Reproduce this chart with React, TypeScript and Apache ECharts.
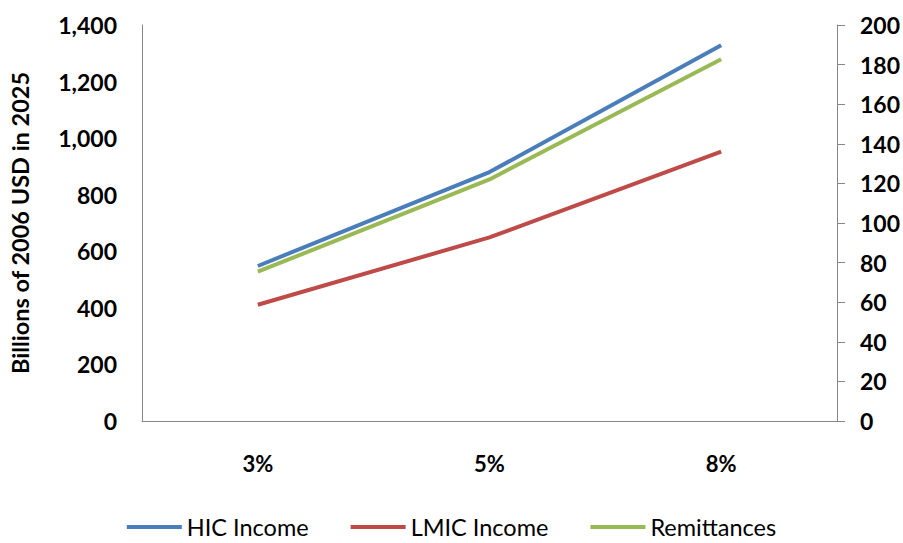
import React, { useEffect, useRef } from "react";
import * as echarts from "echarts";

const categories = ["3%", "5%", "8%"];
const hicIncome = [548, 880, 1328];
const lmicIncome = [411, 649, 952];
const remittances = [75.4, 122, 182.7];
const seriesNames = ["HIC Income", "LMIC Income", "Remittances"];
const leftAxisName = "Billions of 2006 USD in 2025";

const FONT = "Lato, 'Open Sans', sans-serif";

export default function App() {
  const ref = useRef<HTMLDivElement>(null);
  useEffect(() => {
    if (!ref.current) return;
    const chart = echarts.init(ref.current, undefined, { renderer: "svg" });
    const axisGray = "#868686";
    chart.setOption({
      animation: false,
      backgroundColor: "#ffffff",
      grid: { left: 142, right: 66, top: 25, bottom: 122, containLabel: false },
      legend: {
        data: seriesNames,
        left: "center",
        top: 515,
        padding: 0,
        icon: "rect",
        itemWidth: 55,
        itemHeight: 4,
        itemGap: 42,
        textStyle: { fontFamily: FONT, fontSize: 23.5, lineHeight: 24, color: "#000" },
      },
      xAxis: {
        type: "category",
        data: categories,
        boundaryGap: true,
        axisLine: { show: true, lineStyle: { color: axisGray, width: 1 } },
        axisTick: { show: false },
        axisLabel: { margin: 31, fontFamily: FONT, fontSize: 22, fontWeight: "bold", color: "#000" },
      },
      yAxis: [
        {
          type: "value",
          min: 0,
          max: 1400,
          interval: 200,
          name: leftAxisName,
          nameLocation: "middle",
          nameGap: 110,
          nameTextStyle: { fontFamily: FONT, fontSize: 23.5, fontWeight: "bold", color: "#000" },
          axisLine: { show: true, lineStyle: { color: axisGray, width: 1 } },
          axisTick: { show: false },
          splitLine: { show: false },
          axisLabel: {
            margin: 25,
            fontFamily: FONT,
            fontSize: 23,
            fontWeight: "bold",
            color: "#000",
            formatter: (v: number) => v.toLocaleString("en-US"),
          },
        },
        {
          type: "value",
          position: "right",
          min: 0,
          max: 200,
          interval: 20,
          axisLine: { show: true, lineStyle: { color: axisGray, width: 1 } },
          axisTick: { show: true, inside: false, length: 8, lineStyle: { color: axisGray } },
          splitLine: { show: false },
          axisLabel: { margin: 23, fontFamily: FONT, fontSize: 23, fontWeight: "bold", color: "#000" },
        },
      ],
      series: [
        {
          name: seriesNames[0],
          type: "line",
          data: hicIncome,
          yAxisIndex: 0,
          symbol: "none",
          lineStyle: { width: 4, color: "#4A7EBB" },
          itemStyle: { color: "#4A7EBB" },
        },
        {
          name: seriesNames[1],
          type: "line",
          data: lmicIncome,
          yAxisIndex: 0,
          symbol: "none",
          lineStyle: { width: 4, color: "#BE4B48" },
          itemStyle: { color: "#BE4B48" },
        },
        {
          name: seriesNames[2],
          type: "line",
          data: remittances,
          yAxisIndex: 1,
          symbol: "none",
          lineStyle: { width: 4, color: "#98B954" },
          itemStyle: { color: "#98B954" },
        },
      ],
    });
    return () => chart.dispose();
  }, []);
  return (
    <div
      ref={ref}
      style={{ position: "absolute", left: 0, top: 0, width: 903, height: 543 }}
    />
  );
}
